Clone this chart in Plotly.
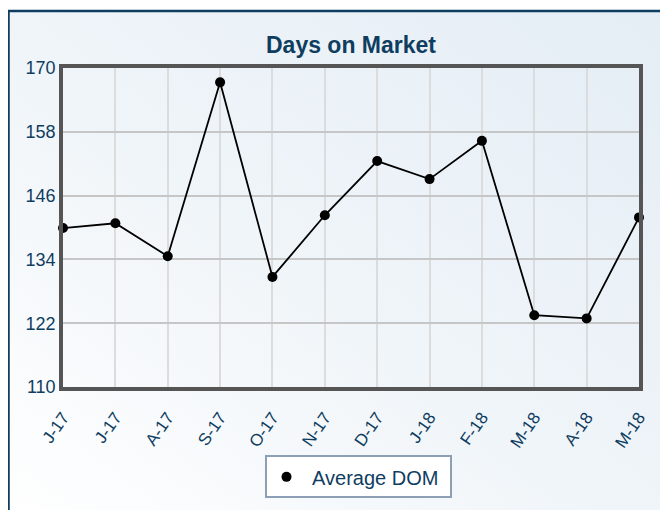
import base64
import plotly.graph_objects as go

months = ["J-17", "J-17", "A-17", "S-17", "O-17", "N-17", "D-17", "J-18", "F-18", "M-18", "A-18", "M-18"]
avg_dom = [139.9, 140.8, 134.6, 167.3, 130.7, 142.3, 152.5, 149.1, 156.3, 123.5, 122.9, 141.9]
y_ticks = [110, 122, 134, 146, 158, 170]

x_idx = list(range(len(months)))
navy = "#0f3d5f"
font = "Liberation Sans, Arial, sans-serif"

# figure geometry (page has an 8px body margin)
W, H = 660, 502
L, R, T, B = 55, 29, 60, 120
PW, PH = W - L - R, H - T - B


def px_to_paper_x(px):
    return (px - L) / PW


def px_to_paper_y(py):
    return (H - B - py) / PH


svg = ('<svg xmlns="http://www.w3.org/2000/svg" width="100" height="100" preserveAspectRatio="none" '
       'viewBox="0 0 100 100"><defs><linearGradient id="g" x1="1" y1="0" x2="0" y2="1">'
       '<stop offset="0" stop-color="#e4edf5"/><stop offset="0.55" stop-color="#f0f5f9"/>'
       '<stop offset="1" stop-color="#ffffff"/></linearGradient></defs>'
       '<rect width="100" height="100" fill="url(#g)"/></svg>')
bg_uri = "data:image/svg+xml;base64," + base64.b64encode(svg.encode()).decode()

fig = go.Figure()
fig.add_trace(go.Scatter(
    x=x_idx, y=avg_dom, mode="lines", showlegend=False, hoverinfo="skip",
    line=dict(color="black", width=1.8), cliponaxis=False,
))
fig.add_trace(go.Scatter(
    x=x_idx, y=avg_dom, mode="markers", name="\u00a0Average DOM\u00a0",
    marker=dict(color="black", size=10),
    cliponaxis=False,
))

x0, x1 = px_to_paper_x(0.5), px_to_paper_x(W + 20)
y0, y1 = px_to_paper_y(H + 20), px_to_paper_y(2.5)

fig.update_layout(
    width=W, height=H,
    margin=dict(l=L, r=R, t=T, b=B),
    paper_bgcolor="white",
    plot_bgcolor="white",
    font=dict(family=font, color=navy),
    title=dict(text="<b>Days on Market</b>", x=343 / W, xanchor="center",
               y=1 - 37 / H, yanchor="middle", font=dict(size=23, color=navy, family=font)),
    showlegend=True,
    legend=dict(orientation="h", x=px_to_paper_x(350), xanchor="center", y=px_to_paper_y(451), yanchor="top",
                bgcolor="white", bordercolor="#8c9fb4", borderwidth=2,
                font=dict(size=20, color=navy, family=font)),
    images=[dict(source=bg_uri, xref="paper", yref="paper", x=x0, y=y1,
                 sizex=x1 - x0, sizey=y1 - y0, xanchor="left", yanchor="top",
                 sizing="stretch", layer="below")],
    shapes=[dict(type="rect", xref="paper", yref="paper",
                 x0=x0, x1=x1, y0=y0, y1=y1,
                 line=dict(color=navy, width=2.5), fillcolor="rgba(0,0,0,0)", layer="above")],
)
fig.update_xaxes(range=[0, 11], tickvals=x_idx, ticktext=months, tickangle=-55,
                 tickfont=dict(size=17, color=navy), showgrid=True, gridcolor="#dcdcdc", gridwidth=1.5,
                 showline=True, linecolor="#555555", linewidth=3.5, mirror=True, zeroline=False,
                 ticks="", ticklabelstandoff=10)
fig.update_yaxes(range=[110, 170], tickvals=y_ticks, tickfont=dict(size=18, color=navy),
                 showgrid=True, gridcolor="#c6c6c6", gridwidth=1.5,
                 showline=True, linecolor="#555555", linewidth=3.5, mirror=True, zeroline=False,
                 ticks="", ticklabelstandoff=0)

fig.write_html("out.html")
